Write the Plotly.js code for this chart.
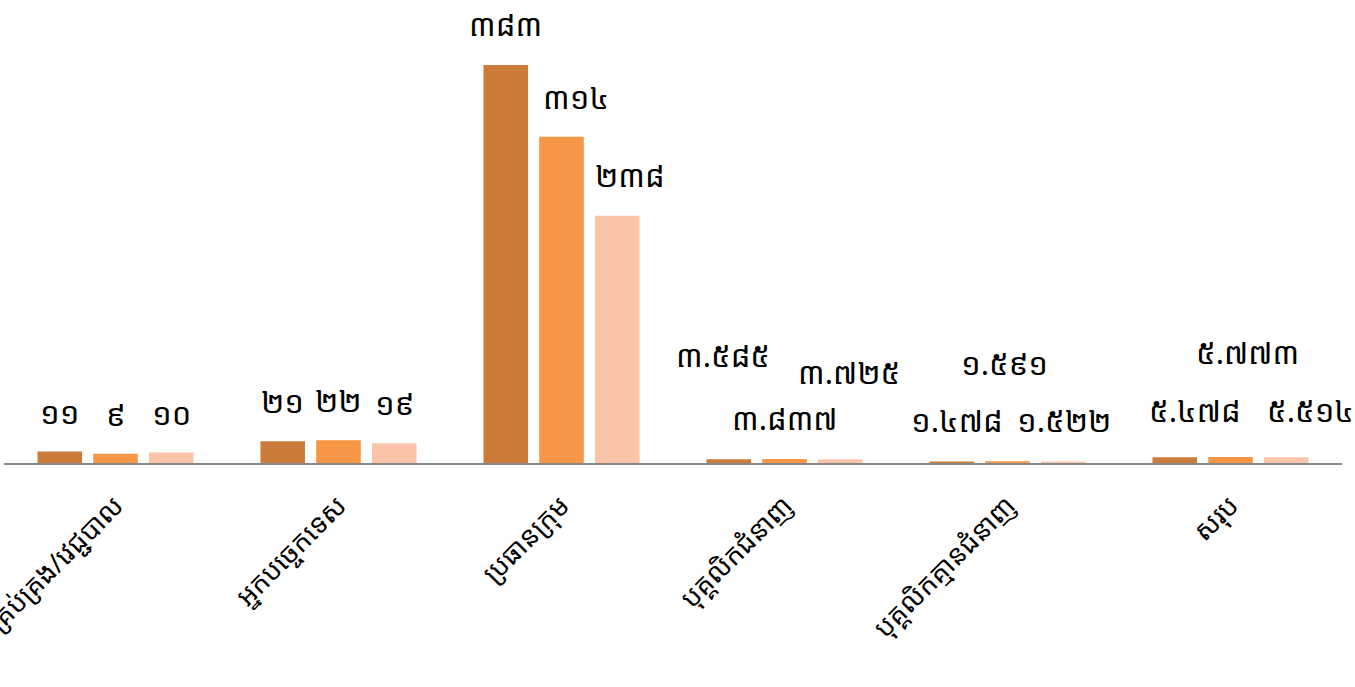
<!DOCTYPE html>
<html>
<head>
<meta charset="utf-8">
<script src="https://cdn.plot.ly/plotly-3.0.1.min.js"></script>
<style>html,body{margin:0;padding:0;background:#fff;}#chart{width:1355px;height:687px;}</style>
</head>
<body>
<div id="chart"></div>
<script>
// ---- data ----
const categories = ["អ្នកគ្រប់គ្រង/វេជ្ជបាល", "អ្នកបច្ចេកទេស", "ប្រធានក្រុម", "បុគ្គលិកជំនាញ", "បុគ្គលិកគ្មានជំនាញ", "សរុប"];
const series1 = [11, 21, 383, 3.585, 1.478, 5.478];
const series2 = [9, 22, 314, 3.837, 1.591, 5.773];
const series3 = [10, 19, 238, 3.725, 1.522, 5.514];
const seriesNames = ["Series 1", "Series 2", "Series 3"];

// ---- styling ----
const colors = ["#CC7C3A", "#F79646", "#FAC4A8"];
const khFont = "'Khmer OS', 'Khmer OS System', 'Noto Sans Khmer', 'Noto Serif Khmer', 'Khmer OS Battambang', sans-serif";
// label pixel offsets [dx, dy] per series per category (manual placement as in reference)
const labelOffsets = [
  [[0,40],[0,40],[0,41],[-6,104],[5,41],[20,47]],
  [[0,40],[0,40],[14,40],[0,41],[-3,98],[17,105]],
  [[0,40],[0,40],[12,41],[8,87],[0,41],[24,47]]
];
const slot = 56;

const khDigits = "០១២៣៤៥៦៧៨៩";
function toKhmer(v){ return String(v).replace(/[0-9]/g, d => khDigits[+d]); }

const all = [series1, series2, series3];
const traces = all.map((s, i) => ({
  type: "bar", x: categories, y: s, name: seriesNames[i],
  marker: {color: colors[i]}, hoverinfo: "x+y"
}));

const annotations = [];
all.forEach((s, i) => {
  s.forEach((v, j) => {
    annotations.push({
      x: categories[j], y: v, xref: "x", yref: "y",
      text: toKhmer(v), showarrow: false,
      xshift: (i - 1) * slot + labelOffsets[i][j][0],
      yshift: labelOffsets[i][j][1],
      xanchor: "center", yanchor: "middle",
      font: {family: khFont, size: 31, color: "#000"}
    });
  });
});

const layout = {
  width: 1355, height: 687,
  margin: {l: 4, r: 13, t: 10, b: 224},
  barmode: "group", bargap: 0.25, bargroupgap: 0.2,
  showlegend: false,
  paper_bgcolor: "#fff", plot_bgcolor: "#fff",
  xaxis: {
    type: "category", tickangle: -45, showline: true, linecolor: "#888888", linewidth: 2,
    ticks: "", showgrid: false, zeroline: false, ticklabelstandoff: 14,
    automargin: false, range: [-0.5, 5.5],
    tickfont: {family: khFont, size: 27, color: "#000"}
  },
  yaxis: {range: [0, 436], visible: false, showgrid: false, zeroline: false, automargin: false},
  annotations: annotations
};

Plotly.newPlot("chart", traces, layout, {displayModeBar: false, staticPlot: true});
</script>
</body>
</html>
